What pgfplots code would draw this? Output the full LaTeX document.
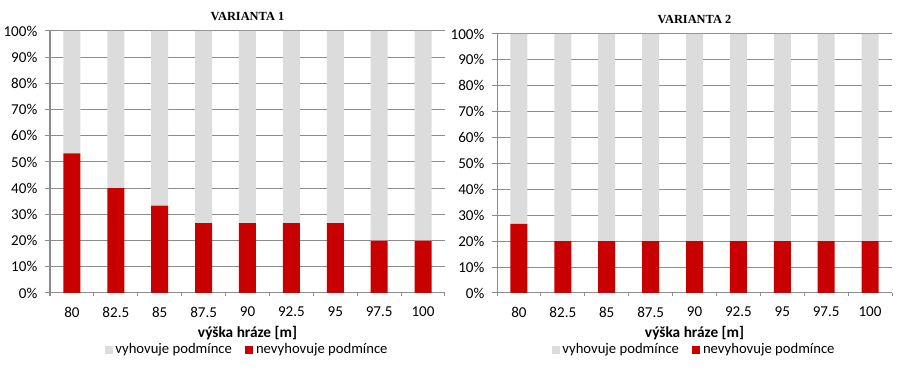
\documentclass[border=0pt]{standalone}
\usepackage{pgfplots}
\pgfplotsset{compat=1.18}
\usepackage{fontspec}
\setmainfont{Carlito}
\newfontfamily\titlefont{Liberation Serif}
\definecolor{myred}{HTML}{C80000}
\definecolor{mygray}{HTML}{DCDCDC}
\definecolor{gridc}{HTML}{8C8C8C}
\pgfplotsset{
  panel/.style={
    scale only axis,
    width=296.25pt,
    ybar stacked,
    bar width=12.75pt,
    xmin=-0.5, xmax=8.5,
    ymin=0, ymax=100,
    xtick={0,...,8},
    xticklabels={80,82.5,85,87.5,90,92.5,95,97.5,100},
    minor xtick={-0.5,0.5,...,8.5},
    ytick={0,10,...,100},
    yticklabel={\pgfmathprintnumber[assume math mode=true]{\tick}\%},
    axis x line*=bottom,
    axis y line*=left,
    axis line style={gridc, line width=0.75pt, -},
    ymajorgrids,
    major grid style={gridc, line width=0.75pt},
    major x tick style={draw=none},
    minor x tick style={gridc, line width=0.75pt},
    ytick style={gridc, line width=0.75pt},
    tick align=outside,
    major tick length=4pt,
    minor tick length=2pt,
    tick label style={font=\fontsize{11.3}{13}\selectfont, text=black},
    xticklabel style={yshift=-3pt},
    yticklabel style={xshift=-2pt},
    xlabel={výška hráze [m]},
    xlabel style={font=\bfseries\fontsize{11.5}{13}\selectfont, yshift=0pt},
    title style={font=\titlefont\bfseries\fontsize{9.3}{11}\selectfont, yshift=-2pt},
    legend style={draw=none, fill=none, at={(0.5,0)}, yshift=-42.5pt, anchor=center, legend columns=2,
      inner sep=0pt, font=\fontsize{11}{13}\selectfont, /tikz/every even column/.append style={column sep=8pt}},
    reverse legend,
    legend image code/.code={\fill[##1] (0pt,-3pt) rectangle (6pt,3pt);},
  }
}
\begin{document}
\begin{tikzpicture}
\useasboundingbox (0,0) rectangle (675pt,277.5pt);
\begin{axis}[panel, height=196.5pt, at={(37.5pt,57.75pt)}, anchor=south west, title={VARIANTA 1}]
\addplot[fill=myred, draw=none] coordinates {(0,53.33) (1,40) (2,33.33) (3,26.67) (4,26.67) (5,26.67) (6,26.67) (7,20) (8,20)};
\addplot[fill=mygray, draw=none] coordinates {(0,46.67) (1,60) (2,66.67) (3,73.33) (4,73.33) (5,73.33) (6,73.33) (7,80) (8,80)};
\legend{nevyhovuje podmínce, vyhovuje podmínce}
\end{axis}
\begin{axis}[panel, height=194.25pt, at={(372.75pt,57.75pt)}, anchor=south west, title={VARIANTA 2}]
\addplot[fill=myred, draw=none] coordinates {(0,26.67) (1,20) (2,20) (3,20) (4,20) (5,20) (6,20) (7,20) (8,20)};
\addplot[fill=mygray, draw=none] coordinates {(0,73.33) (1,80) (2,80) (3,80) (4,80) (5,80) (6,80) (7,80) (8,80)};
\legend{nevyhovuje podmínce, vyhovuje podmínce}
\end{axis}
\end{tikzpicture}
\end{document}
